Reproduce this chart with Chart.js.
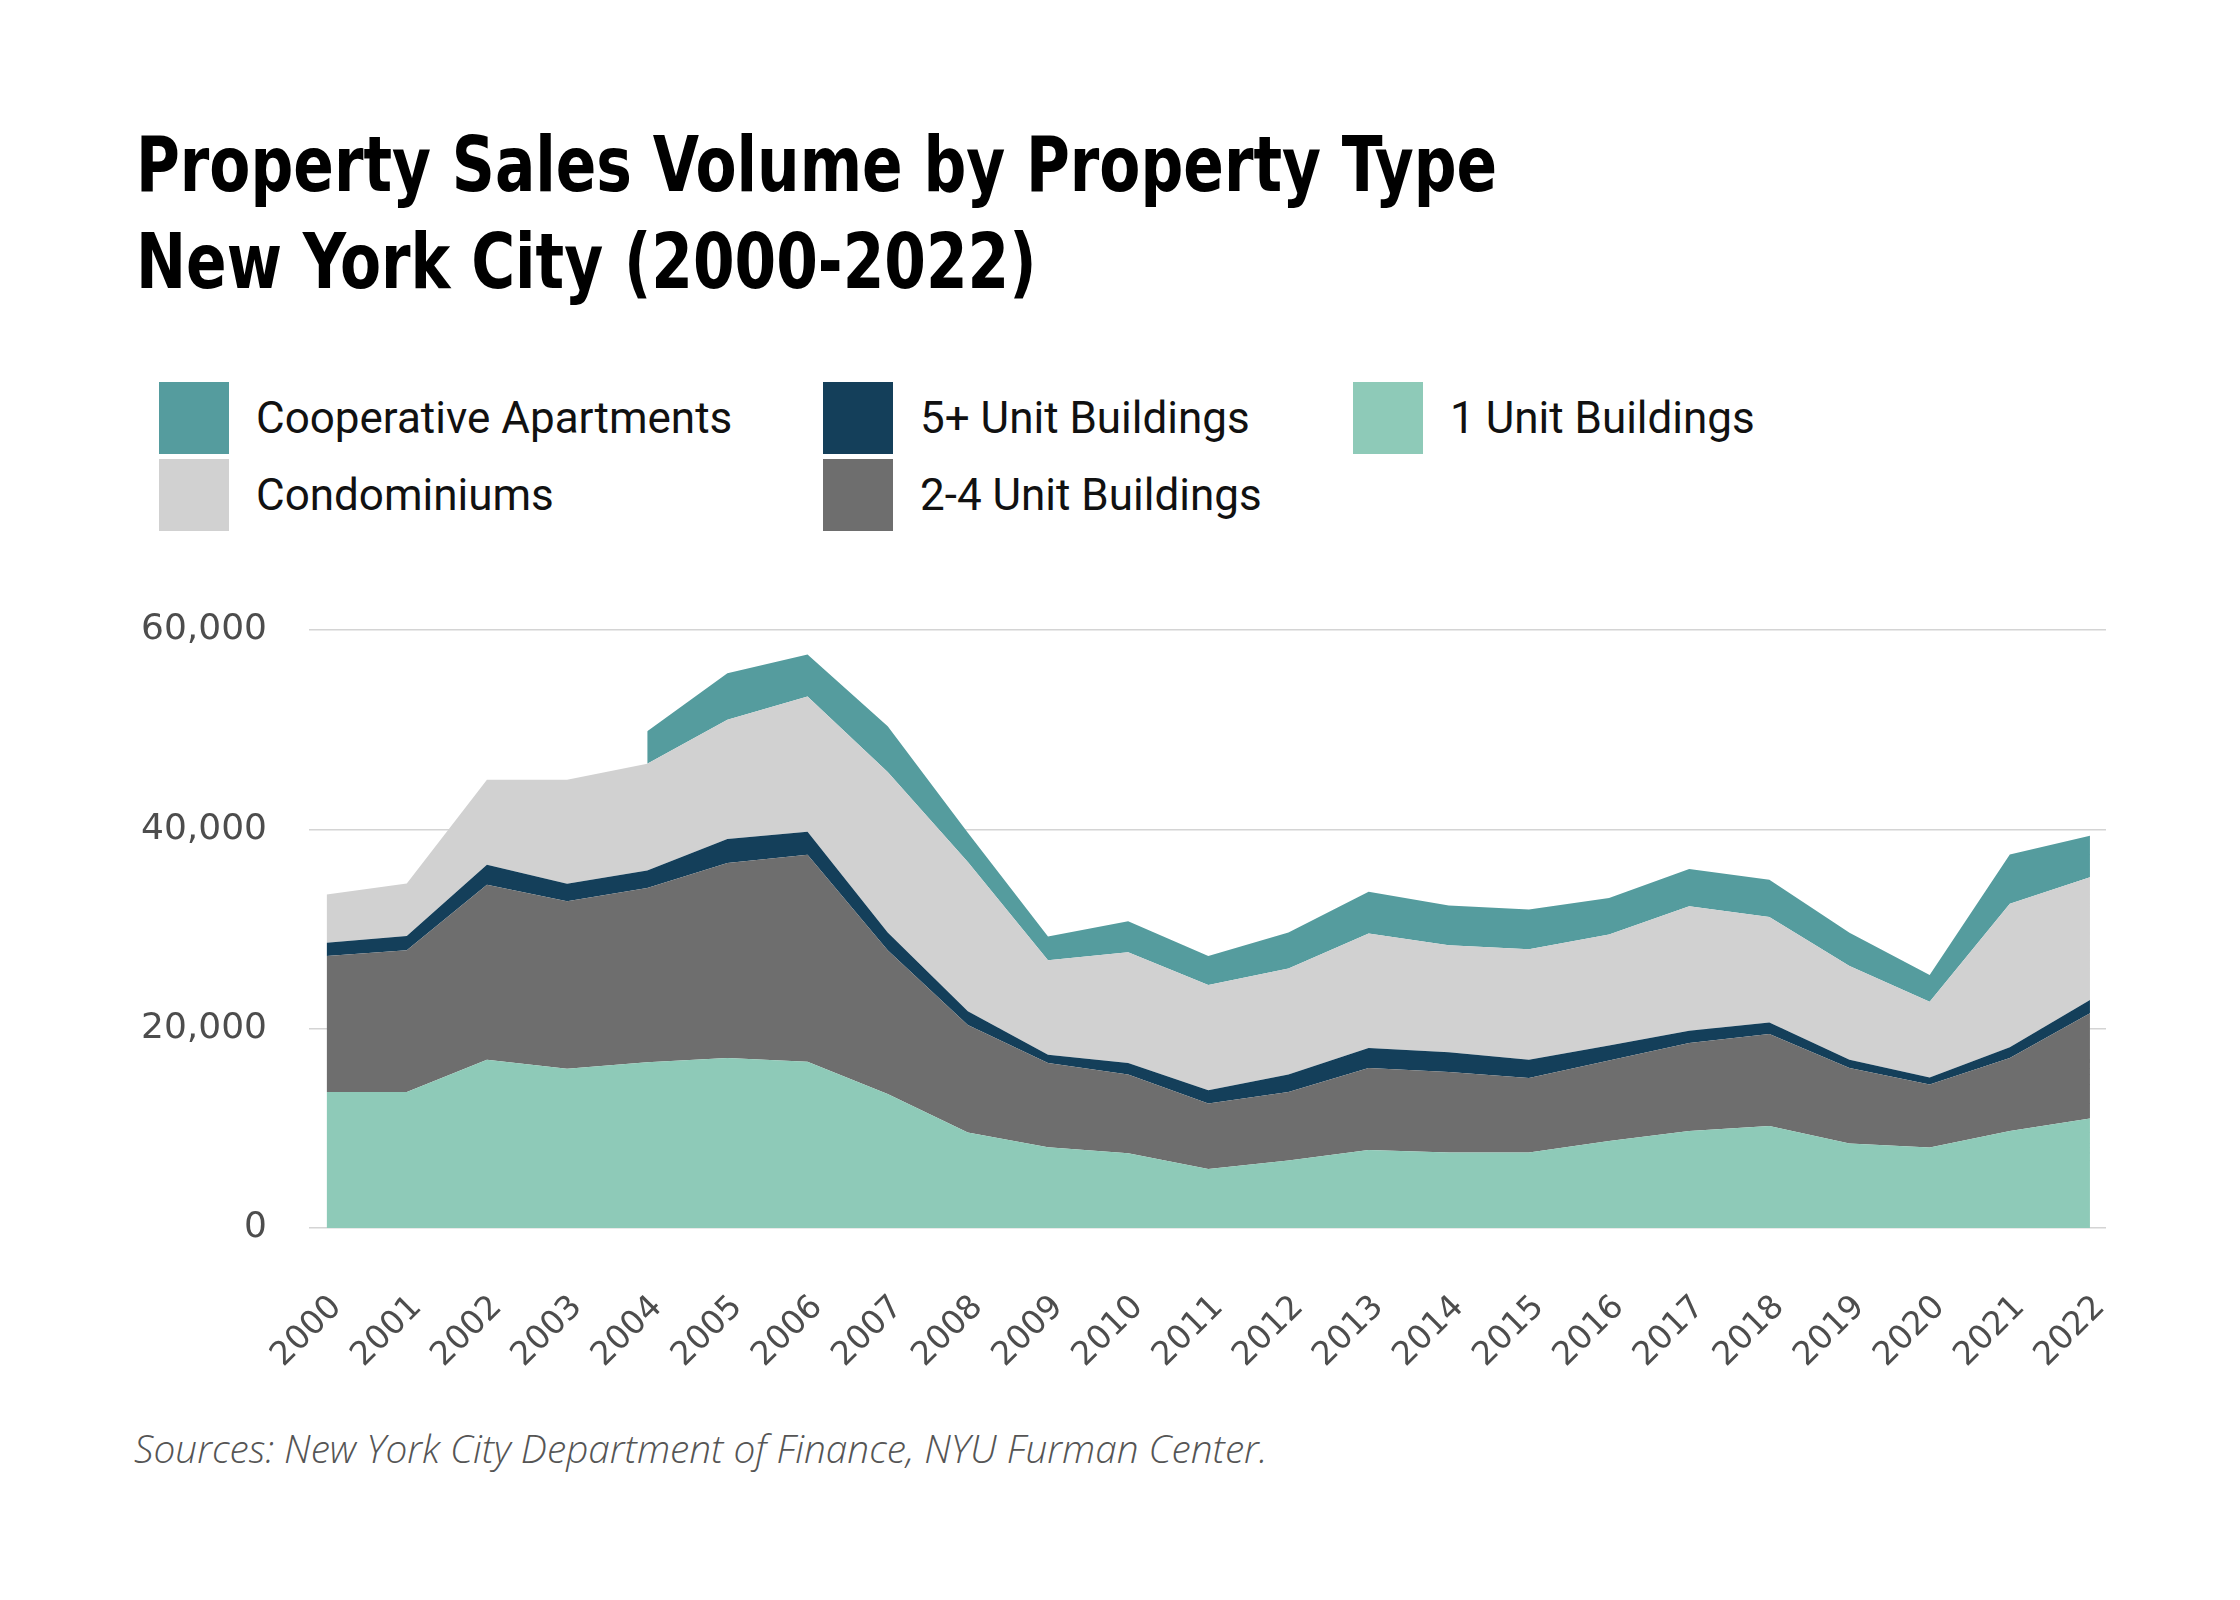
<!DOCTYPE html>
<html>
<head>
<meta charset="utf-8">
<script src="https://cdn.jsdelivr.net/npm/chart.js@4.4.1/dist/chart.umd.min.js"></script>
<style>
  html, body { margin: 0; padding: 0; background: #fff; }
  body { width: 2240px; height: 1600px; position: relative; overflow: hidden; }
  .title {
    position: absolute; left: 136px; top: 116px;
    font-family: "Liberation Sans Narrow", "DejaVu Sans Condensed", sans-serif;
    font-weight: bold; font-size: 76px; line-height: 97px; color: #000;
    transform: scaleX(0.875); transform-origin: left top; white-space: nowrap;
  }
  #legend {
    position: absolute; left: 159px; top: 382px;
    display: grid; grid-template-rows: 72px 72px; grid-auto-flow: column;
    grid-template-columns: 664px 530px 400px; row-gap: 5px;
  }
  .item { display: flex; align-items: center; }
  .swatch { width: 70px; height: 72px; flex: none; }
  .item span {
    margin-left: 27px; font-family: Roboto, "Noto Sans", sans-serif;
    font-size: 44px; color: #111; white-space: nowrap;
  }
  #box { position: absolute; left: 100px; top: 590px; width: 2040px; height: 810px; }
  .source {
    position: absolute; left: 134px; top: 1429px;
    font-family: "Open Sans", sans-serif; font-style: italic; font-weight: 300;
    font-size: 38.8px; line-height: 38px; color: #555; white-space: nowrap;
  }
</style>
</head>
<body>
<div class="title">Property Sales Volume by Property Type<br>New York City (2000-2022)</div>
<div id="legend"></div>
<div id="box"><canvas id="salesChart"></canvas></div>
<div class="source">Sources: New York City Department of Finance, NYU Furman Center.</div>

<script>
// =============================
// DATA
// =============================
const years = [2000, 2001, 2002, 2003, 2004, 2005, 2006, 2007, 2008, 2009, 2010, 2011,
               2012, 2013, 2014, 2015, 2016, 2017, 2018, 2019, 2020, 2021, 2022];

const oneUnit   = [13650, 13650, 16890, 15970, 16640, 17060, 16680, 13440, 9570, 8110, 7490, 5910,
                   6780, 7820, 7570, 7570, 8740, 9730, 10230, 8490, 8070, 9730, 10980];
const twoToFour = [13640, 14220, 17550, 16810, 17470, 19550, 20760, 14430, 10810, 8450, 7900, 6570,
                   6870, 8240, 8070, 7490, 8070, 8820, 9240, 7570, 6320, 7330, 10570];
const fivePlus  = [1330, 1420, 2000, 1750, 1750, 2410, 2330, 1790, 1380, 830, 1170, 1330,
                   1740, 1990, 2000, 1830, 1490, 1250, 1160, 830, 710, 1080, 1330];
const condos    = [4830, 5280, 8530, 10440, 10730, 11980, 13560, 16100, 14970, 9480, 11100, 10570,
                   10650, 11490, 10730, 11070, 11150, 12480, 10570, 9400, 7610, 14390, 12310];
// no co-op figures before 2004
const coops     = [null, null, null, null, 3250, 4660, 4200, 4580, 2930, 2370, 3120, 2910,
                   3620, 4200, 3990, 3990, 3660, 3750, 3740, 3330, 2670, 4950, 4160];

const yTicks = [0, 20000, 40000, 60000];

// =============================
// SERIES (bottom of the stack first)
// =============================
const series = [
  { label: "1 Unit Buildings",        values: oneUnit,   color: "#8ecab8" },
  { label: "2-4 Unit Buildings",      values: twoToFour, color: "#6e6e6e" },
  { label: "5+ Unit Buildings",       values: fivePlus,  color: "#143f5a" },
  { label: "Condominiums",            values: condos,    color: "#d1d1d1" },
  { label: "Cooperative Apartments",  values: coops,     color: "#559c9e" }
];

// legend reads top of the stack first, column by column
function renderLegend() {
  const box = document.getElementById("legend");
  box.innerHTML = "";
  series.slice().reverse().forEach((s) => {
    box.insertAdjacentHTML("beforeend", `
      <div class="item">
        <div class="swatch" style="background:${s.color}"></div>
        <span>${s.label}</span>
      </div>`);
  });
}

function renderChart() {
  const ctx = document.getElementById("salesChart").getContext("2d");

  const datasets = series.map((s, i) => ({
    label: s.label,
    data: years.map((yr, k) => ({ x: yr, y: s.values[k] })),
    backgroundColor: s.color,
    borderWidth: 0,
    pointRadius: 0,
    tension: 0,
    fill: i === 0 ? "origin" : "-1"
  }));

  new Chart(ctx, {
    type: "line",
    data: { datasets },
    options: {
      responsive: true,
      maintainAspectRatio: false,
      animation: false,
      devicePixelRatio: 1,
      layout: { padding: { top: 40, right: 34, left: 0, bottom: 0 } },
      plugins: { legend: { display: false }, tooltip: { enabled: false } },
      scales: {
        x: {
          type: "linear",
          min: 1999.78,
          max: 2022.2,
          grid: { display: false },
          border: { display: false },
          // fixed height, and don't let the rotated labels eat into the plot
          afterFit: (scale) => { scale.height = 172; scale.paddingLeft = 0; scale.paddingRight = 0; },
          ticks: {
            stepSize: 1,
            includeBounds: false,
            autoSkip: false,
            minRotation: 45,
            maxRotation: 45,
            padding: 52,
            labelOffset: 10,
            color: "#4d4d4d",
            font: { family: "DejaVu Sans", size: 33 },
            callback: (v) => String(v)
          }
        },
        y: {
          stacked: true,
          min: 0,
          max: 60000,
          afterFit: (scale) => { scale.width = 209; scale.paddingTop = 0; scale.paddingBottom = 0; },
          afterBuildTicks: (scale) => { scale.ticks = yTicks.map((v) => ({ value: v })); },
          grid: { color: "#d4d4d4", lineWidth: 1.5, drawTicks: false },
          border: { display: false },
          ticks: {
            padding: 42,
            color: "#4d4d4d",
            font: { family: "DejaVu Sans", size: 36 },
            callback: (v) => v.toLocaleString("en-US")
          }
        }
      }
    }
  });
}

document.addEventListener("DOMContentLoaded", () => {
  renderLegend();
  renderChart();
});
</script>
</body>
</html>
